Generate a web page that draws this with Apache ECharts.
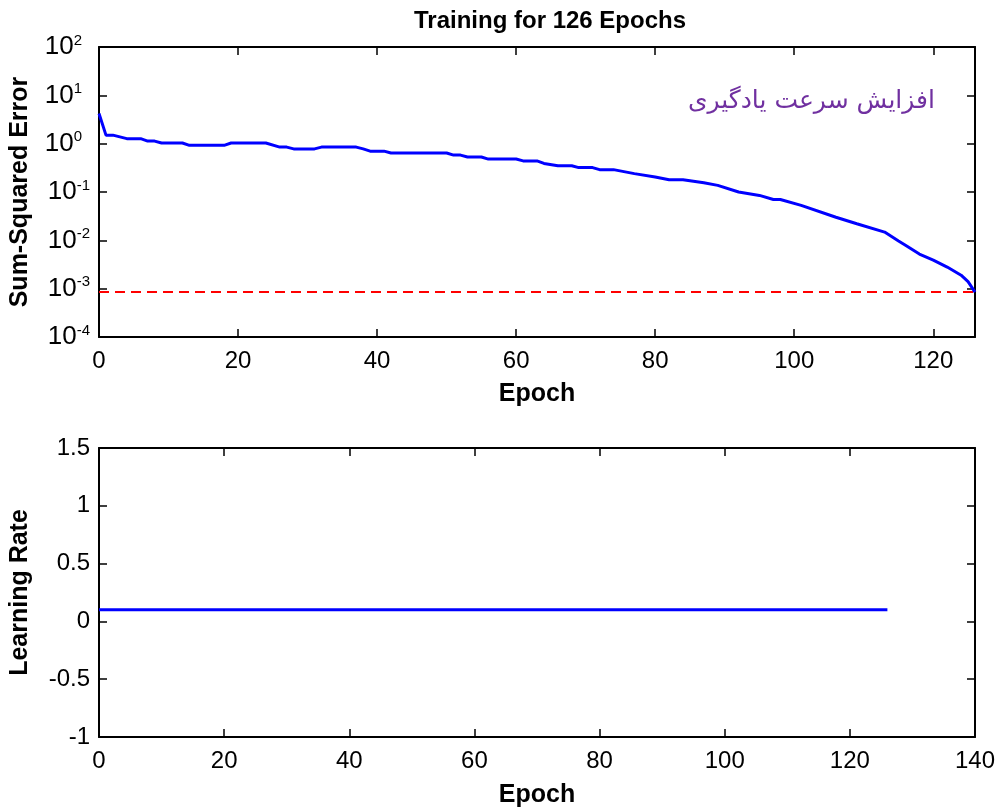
<!DOCTYPE html>
<html>
<head>
<meta charset="utf-8">
<script src="https://cdn.jsdelivr.net/npm/echarts@6/dist/echarts.min.js"></script>
<style>
  html, body { margin: 0; padding: 0; background: #fff; }
  #chart { width: 999px; height: 811px; }
</style>
</head>
<body>
<div id="chart"></div>
<script>
// training record
var sseEpochs = [0, 1, 2, 4, 6, 7, 8, 9, 12, 13, 18, 19, 24, 26, 27, 28, 31, 32, 37, 38, 39, 41, 42, 50,
  51, 52, 53, 55, 56, 60, 61, 63, 64, 66, 68, 69, 71, 72, 74, 77, 80, 82, 84, 87, 89, 92, 95, 97, 98,
  101, 106, 109, 113, 115, 116, 118, 120, 122, 124, 125, 126];
var sseValues = [4.2, 1.5, 1.5, 1.27, 1.27, 1.13, 1.13, 1.03, 1.03, 0.925, 0.925, 1.03, 1.03, 0.85, 0.85, 0.78,
  0.78, 0.85, 0.85, 0.78, 0.70, 0.70, 0.64, 0.64,
  0.58, 0.58, 0.53, 0.53, 0.48, 0.48, 0.44, 0.44, 0.39, 0.35, 0.35, 0.32, 0.32, 0.29, 0.29, 0.24, 0.205, 0.18,
  0.18, 0.155, 0.137, 0.10, 0.085, 0.07, 0.07,
  0.053, 0.030, 0.022, 0.0148, 0.0097, 0.0079, 0.0052, 0.0039, 0.0028, 0.0019, 0.0014, 0.00085];
var goalEpochs = [0, 126];
var goalValue = 0.00085;
var lrEpochs = [0, 126];
var lrValues = [0.1, 0.1];
var titleText = 'Training for 126 Epochs';
var noteText = 'افزایش سرعت یادگیری';

var font = '"Liberation Sans", Arial, sans-serif';
var ink = '#000';

function zip(xs, ys) {
  var out = [];
  for (var i = 0; i < xs.length; i++) out.push([xs[i], ys[i]]);
  return out;
}

var tickIn = { show: true, inside: true, length: 8, lineStyle: { color: ink, width: 1.5 } };
var frameLine = { show: true, onZero: false, lineStyle: { color: ink, width: 2 } };
var nameStyle = { fontFamily: font, fontWeight: 'bold', fontSize: 25, color: ink };

// 10^n labels, the "10" stays lined up, short exponents get right padding
function logLabel(v) {
  var e = Math.round(Math.log10(v));
  return '{b|10}{' + (e < 0 ? 's' : 'sp') + '|' + e + '}';
}

var myChart = echarts.init(document.getElementById('chart'));
var opt = {
  animation: false,
  backgroundColor: '#fff',
  title: {
    text: titleText,
    left: 545,
    top: 4,
    textAlign: 'center',
    textStyle: { fontFamily: font, fontWeight: 'bold', fontSize: 24, color: ink }
  },
  graphic: [{
    type: 'text',
    right: 64,
    top: 89,
    style: {
      text: noteText,
      fill: '#7030a0',
      fontSize: 25,
      fontFamily: '"DejaVu Sans", "Noto Sans", sans-serif'
    }
  }],
  grid: [
    { left: 99, top: 47, width: 876, height: 290 },
    { left: 99, top: 448, width: 876, height: 289 }
  ],
  xAxis: [
    {
      gridIndex: 0, type: 'value', min: 0, max: 126, interval: 20,
      name: 'Epoch', nameLocation: 'middle', nameGap: 45, nameTextStyle: nameStyle,
      axisLine: frameLine, axisTick: tickIn, splitLine: { show: false },
      axisLabel: { fontFamily: font, fontSize: 24, color: ink, margin: 12, showMaxLabel: false }
    },
    {
      gridIndex: 0, type: 'value', position: 'top', min: 0, max: 126, interval: 20,
      axisLine: frameLine, axisTick: tickIn, splitLine: { show: false },
      axisLabel: { show: false }
    },
    {
      gridIndex: 1, type: 'value', min: 0, max: 140, interval: 20,
      name: 'Epoch', nameLocation: 'middle', nameGap: 46, nameTextStyle: nameStyle,
      axisLine: frameLine, axisTick: tickIn, splitLine: { show: false },
      axisLabel: { fontFamily: font, fontSize: 24, color: ink, margin: 12 }
    },
    {
      gridIndex: 1, type: 'value', position: 'top', min: 0, max: 140, interval: 20,
      axisLine: frameLine, axisTick: tickIn, splitLine: { show: false },
      axisLabel: { show: false }
    }
  ],
  yAxis: [
    {
      gridIndex: 0, type: 'log', logBase: 10, min: 0.0001, max: 100, splitNumber: 6,
      name: 'Sum-Squared Error', nameLocation: 'middle', nameGap: 66, nameTextStyle: nameStyle,
      axisLine: frameLine, axisTick: tickIn, splitLine: { show: false }, minorTick: { show: false },
      axisLabel: {
        formatter: logLabel, margin: 9,
        rich: {
          b: { fontFamily: font, fontSize: 26, color: ink, lineHeight: 28 },
          s: { fontFamily: font, fontSize: 15, color: ink, lineHeight: 28, verticalAlign: 'top' },
          sp: { fontFamily: font, fontSize: 15, color: ink, lineHeight: 28, verticalAlign: 'top', padding: [0, 8, 0, 0] }
        }
      }
    },
    {
      gridIndex: 0, type: 'log', logBase: 10, min: 0.0001, max: 100, splitNumber: 6, position: 'right',
      axisLine: frameLine, axisTick: tickIn, splitLine: { show: false }, axisLabel: { show: false }
    },
    {
      gridIndex: 1, type: 'value', min: -1, max: 1.5, interval: 0.5,
      name: 'Learning Rate', nameLocation: 'middle', nameGap: 66, nameTextStyle: nameStyle,
      axisLine: frameLine, axisTick: tickIn, splitLine: { show: false },
      axisLabel: { fontFamily: font, fontSize: 24, color: ink, margin: 9 }
    },
    {
      gridIndex: 1, type: 'value', min: -1, max: 1.5, interval: 0.5, position: 'right',
      axisLine: frameLine, axisTick: tickIn, splitLine: { show: false }, axisLabel: { show: false }
    }
  ],
  series: [
    {
      name: 'sse', type: 'line', xAxisIndex: 0, yAxisIndex: 0,
      data: zip(sseEpochs, sseValues), showSymbol: false, symbol: 'none',
      lineStyle: { color: '#0000ff', width: 3 }, z: 3
    },
    {
      name: 'goal', type: 'line', xAxisIndex: 0, yAxisIndex: 0,
      data: zip(goalEpochs, [goalValue, goalValue]), symbol: 'none',
      lineStyle: { color: '#ff0000', width: 2, type: [10, 6] }, z: 2
    },
    {
      name: 'lr', type: 'line', xAxisIndex: 2, yAxisIndex: 2,
      data: zip(lrEpochs, lrValues), symbol: 'none',
      lineStyle: { color: '#0000ff', width: 3 }
    }
  ]
};
myChart.setOption(opt);
</script>
</body>
</html>
